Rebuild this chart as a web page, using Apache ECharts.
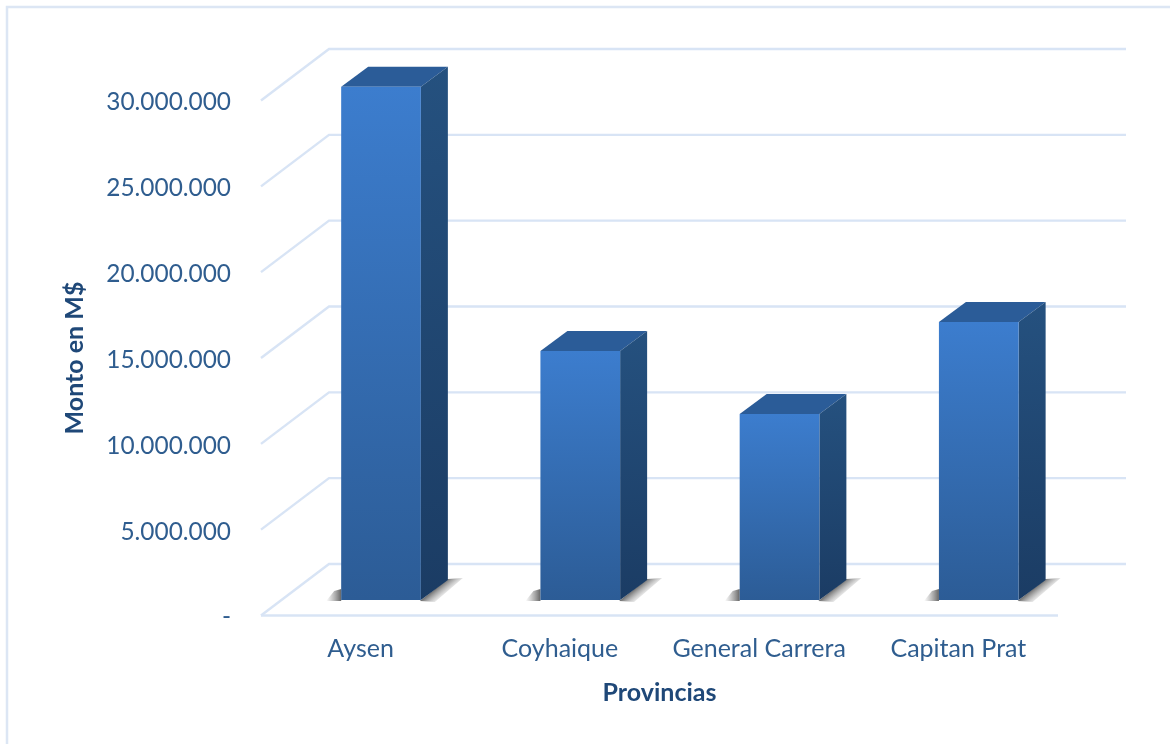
<!DOCTYPE html>
<html>
<head>
<meta charset="utf-8">
<style>html,body{margin:0;padding:0;background:#fff}#c{width:1170px;height:744px}</style>
<script src="https://cdn.jsdelivr.net/npm/echarts@6/dist/echarts.min.js"></script>
</head>
<body>
<div id="c"></div>
<script>
const categories = ['Aysen', 'Coyhaique', 'General Carrera', 'Capitan Prat'];
const montos = [29900000, 14500000, 10830000, 16200000];
const tickValues = [0, 5000000, 10000000, 15000000, 20000000, 25000000, 30000000];

const textColor = '#2F5D8F';
const titleColor = '#1F4878';
const gridColor = '#D8E4F5';
const G = echarts.graphic;
const chart = echarts.init(document.getElementById('c'), null, {renderer: 'canvas'});

function fmt(v) {
  const s = v === 0 ? '-' : String(v).replace(/\B(?=(\d{3})+(?!\d))/g, '.');
  return '{t|' + s + '}';
}
function vGrad(a, b) {
  return new G.LinearGradient(0, 0, 0, 1, [{offset: 0, color: a}, {offset: 1, color: b}]);
}

function renderWall(params, api) {
  const y = api.coord([categories[0], api.value(1)])[1];
  const cs = params.coordSys;
  const x0 = cs.x, x1 = cs.x + cs.width;
  const dx = 68, dy = 51.5;
  const style = {stroke: gridColor, lineWidth: 2.4, fill: null};
  const children = [{
    type: 'polyline', silent: true,
    shape: {points: [[x0, y], [x0 + dx, y - dy], [x1 + dx, y - dy]]}, style
  }];
  if (api.value(1) === 0) {
    children.push({type: 'line', silent: true, shape: {x1: x0, y1: y, x2: x1, y2: y}, style});
  }
  return {type: 'group', children};
}

function renderBar(params, api) {
  const base = api.coord([api.value(0), 0]);
  const top = api.coord([api.value(0), api.value(1)]);
  const w = api.size([1, 0])[0] * 0.4;
  const ox = 20.4, oy = -15.5;
  const l = base[0] + ox - w / 2, r = l + w;
  const b = base[1] + oy, t = top[1] + oy;
  const dx = 27, dy = -20;
  const mx = r + dx / 2, my = b + dy / 2;
  return {
    type: 'group',
    children: [
      // soft floor shadow, left of the front face
      {type: 'polygon', silent: true,
       shape: {points: [[l - 15, b + 1], [l - 7, b - 9], [l, b - 11], [l, b + 1]]},
       style: {fill: new G.LinearGradient(l - 15, b, l, b, [
         {offset: 0, color: 'rgba(130,130,130,0)'},
         {offset: 1, color: 'rgba(85,85,85,0.9)'}
       ], true)}},
      // soft floor shadow, right of the side face
      {type: 'polygon', silent: true,
       shape: {points: [[r - 1, b + 1], [r + dx, b + dy - 1], [r + dx + 15, b + dy - 2], [r + 14, b + 2]]},
       style: {fill: new G.LinearGradient(mx - 1, my - 1, mx + 8, my + 10, [
         {offset: 0, color: 'rgba(85,85,85,0.95)'},
         {offset: 1, color: 'rgba(170,170,170,0)'}
       ], true)}},
      {type: 'polygon', silent: true,
       shape: {points: [[l, t], [l + dx, t + dy], [r + dx, t + dy], [r, t]]},
       style: {fill: '#2B5C98'}},
      {type: 'polygon', silent: true,
       shape: {points: [[r, t], [r + dx, t + dy], [r + dx, b + dy], [r, b]]},
       style: {fill: vGrad('#25517F', '#1B3C64')}},
      {type: 'rect', silent: true,
       shape: {x: l, y: t, width: w, height: b - t},
       style: {fill: vGrad('#3C7DCE', '#2C5C96')}}
    ]
  };
}

chart.setOption({
  animation: false,
  backgroundColor: '#fff',
  textStyle: {fontFamily: 'Lato'},
  grid: {left: 261, width: 797, top: 100.5, height: 515, containLabel: false},
  graphic: [
    {type: 'polyline', silent: true, shape: {points: [[7, 744], [7, 7], [1170, 7]]},
     style: {stroke: '#DCE6F4', lineWidth: 2.5, fill: null}}
  ],
  xAxis: {
    type: 'category', data: categories,
    axisLine: {show: false}, axisTick: {show: false},
    axisLabel: {color: textColor, fontSize: 25, fontFamily: 'Lato', margin: 21, interval: 0, hideOverlap: false},
    name: 'Provincias', nameLocation: 'middle', nameGap: 65,
    nameTextStyle: {color: titleColor, fontSize: 25, fontWeight: 'bold', fontFamily: 'Lato'}
  },
  yAxis: {
    type: 'value', min: 0, max: 30000000, interval: 5000000,
    axisLine: {show: false}, axisTick: {show: false}, splitLine: {show: false},
    axisLabel: {margin: 30, formatter: fmt,
      rich: {t: {color: textColor, fontSize: 24.4, fontFamily: 'Lato', padding: [4, 0, 0, 0]}}},
    name: 'Monto en M$', nameLocation: 'middle', nameGap: 174, nameRotate: 90,
    nameTextStyle: {color: titleColor, fontSize: 25, fontWeight: 'bold', fontFamily: 'Lato'}
  },
  series: [
    {type: 'custom', clip: false, z: 1, renderItem: renderWall,
     encode: {x: 0, y: 1},
     data: tickValues.map(v => [categories[0], v])},
    {type: 'custom', clip: false, z: 2, renderItem: renderBar,
     encode: {x: 0, y: 1},
     data: categories.map((c, i) => [i, montos[i]])}
  ]
});
</script>
</body>
</html>
